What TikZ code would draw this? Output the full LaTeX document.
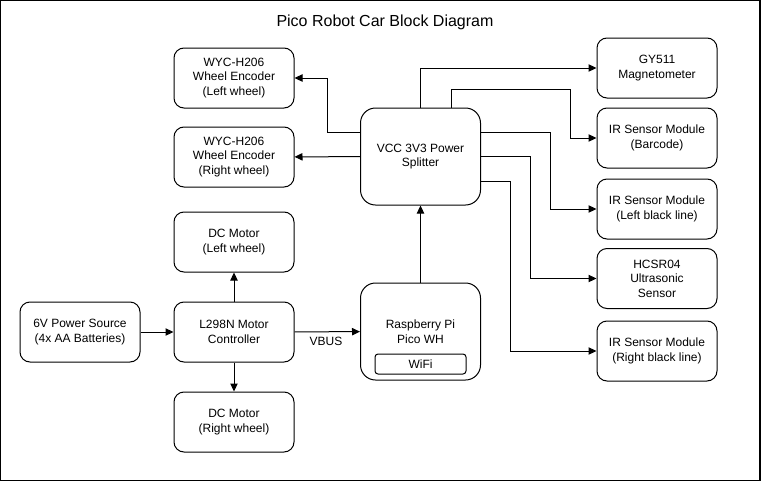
\documentclass[tikz,border=0pt]{standalone}
\usepackage{fontspec}
\setmainfont{Liberation Sans}
\usetikzlibrary{arrows.meta}
\tikzset{
  px/.style={x=0.75pt,y=-0.75pt},
  box/.style={draw, line width=0.75pt, rounded corners=7.5pt, minimum width=90pt, minimum height=45pt, align=center, inner sep=0pt, font=\fontsize{9}{10.9}\selectfont},
  bigbox/.style={box, rounded corners=11.25pt, minimum height=72.75pt},
  smallbox/.style={draw, line width=0.75pt, rounded corners=2.25pt, minimum width=68.25pt, minimum height=15pt, inner sep=0pt, font=\fontsize{9}{10.9}\selectfont},
  arr/.style={draw, line width=0.75pt, -{Triangle[length=6pt,width=5.5pt]}},
  lbl/.style={font=\fontsize{9}{10.9}\selectfont, inner sep=0pt},
}
\begin{document}
\begin{tikzpicture}[px]
\useasboundingbox (0,0) rectangle (761,482);
\draw[line width=1.2pt] (0.6,0.6) rectangle (760.2,480.6);
\node[font=\fontsize{12}{14}\selectfont] (title) at (385,22) {Pico Robot Car Block Diagram};

\node[box] (encl) at (234,78) {WYC-H206\\Wheel Encoder\\(Left wheel)};
\node[box] (encr) at (234,157) {WYC-H206\\Wheel Encoder\\(Right wheel)};
\node[box] (dcl) at (234,242) {DC Motor\\(Left wheel)};
\node[box] (l298) at (234,332) {L298N Motor\\Controller};
\node[box] (dcr) at (234,422) {DC Motor\\(Right wheel)};
\node[box] (src) at (80,332) {6V Power Source\\(4x AA Batteries)};
\node[bigbox] (pico) at (420.5,331.5) {Raspberry Pi\\Pico WH};
\node[smallbox] (wifi) at (420.5,364) {WiFi};
\node[bigbox] (vcc) at (420.5,156.5) {VCC 3V3 Power\\Splitter};
\node[box] (gy) at (657,68) {GY511\\Magnetometer};
\node[box] (irb) at (657,138) {IR Sensor Module\\(Barcode)};
\node[box] (irl) at (657,209) {IR Sensor Module\\(Left black line)};
\node[box] (hc) at (657,278.5) {HCSR04\\Ultrasonic\\Sensor};
\node[box] (irr) at (657,351) {IR Sensor Module\\(Right black line)};

\draw[arr] (src) -- (l298);
\draw[arr] (l298) -- (pico);
\node[lbl] (vbus) at (326,341) {VBUS};
\draw[arr] (l298) -- (dcl);
\draw[arr] (l298) -- (dcr);
\draw[arr] (pico) -- (vcc);

\draw[arr] (vcc.west |- 0,132) -- (327,132) |- (encl.east);
\draw[arr] (vcc) -- (encr);
\draw[arr] (vcc.north) |- (gy.west);
\draw[arr] (vcc.north -| 451,0) |- (570,89) |- (irb.west);
\draw[arr] (vcc.east |- 0,132) -- (550,132) |- (irl.west);
\draw[arr] (vcc.east) -- (530,156.5) |- (hc.west);
\draw[arr] (vcc.east |- 0,181) -- (510,181) |- (irr.west);
\end{tikzpicture}
\end{document}
